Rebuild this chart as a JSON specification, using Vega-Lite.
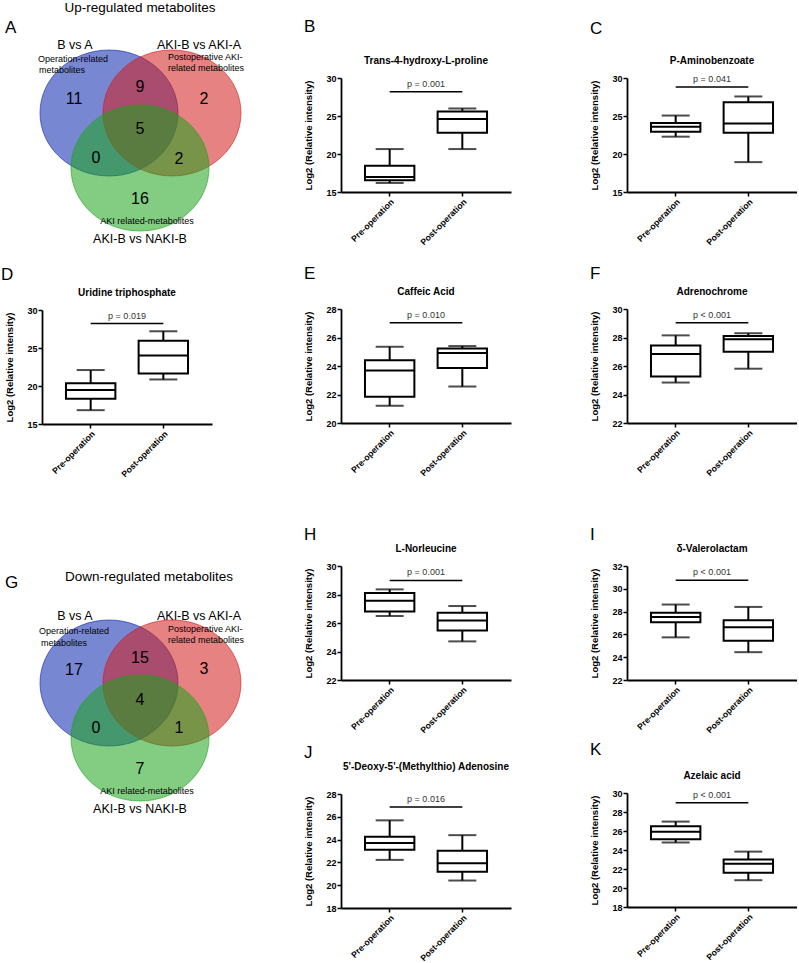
{
"$schema": "https://vega.github.io/schema/vega-lite/v6.json",
"padding": 0,
"background": "white",
"config": {
  "view": {"stroke": null},
  "font": "Liberation Sans",
  "title": {"font": "Liberation Sans", "color": "black"},
  "text": {"font": "Liberation Sans", "color": "black"},
  "axis": {"domainColor": "black", "domainWidth": 1.8, "tickColor": "black", "tickWidth": 1.5, "tickSize": 4, "labelColor": "black", "labelFont": "Liberation Sans", "labelFontWeight": "bold", "labelFontSize": 9, "labelPadding": 1, "labelOverlap": false, "titleFont": "Liberation Sans", "titleFontWeight": "bold", "titleFontSize": 9.5, "titleColor": "black", "grid": false},
  "axisX": {"labelFontSize": 8.7},
  "axisY": {"titlePadding": 12, "labelOverlap": false}
},
"datasets": {
  "box": [
    {"panel": "B", "group": "Pre-operation", "lo": 16.19, "q1": 16.55, "med": 16.99, "q3": 18.44, "hi": 20.65},
    {"panel": "B", "group": "Post-operation", "lo": 20.65, "q1": 22.81, "med": 24.62, "q3": 25.59, "hi": 25.99},
    {"panel": "C", "group": "Pre-operation", "lo": 22.28, "q1": 22.94, "med": 23.6, "q3": 24.09, "hi": 25.06},
    {"panel": "C", "group": "Post-operation", "lo": 18.93, "q1": 22.81, "med": 24.0, "q3": 26.82, "hi": 27.57},
    {"panel": "D", "group": "Pre-operation", "lo": 16.82, "q1": 18.33, "med": 19.48, "q3": 20.37, "hi": 22.1},
    {"panel": "D", "group": "Post-operation", "lo": 20.86, "q1": 21.66, "med": 24.01, "q3": 25.96, "hi": 27.2},
    {"panel": "E", "group": "Pre-operation", "lo": 21.21, "q1": 21.85, "med": 23.69, "q3": 24.4, "hi": 25.35},
    {"panel": "E", "group": "Post-operation", "lo": 22.56, "q1": 23.86, "med": 24.92, "q3": 25.23, "hi": 25.4},
    {"panel": "F", "group": "Pre-operation", "lo": 24.84, "q1": 25.27, "med": 26.85, "q3": 27.44, "hi": 28.15},
    {"panel": "F", "group": "Post-operation", "lo": 25.81, "q1": 27.0, "med": 27.87, "q3": 28.11, "hi": 28.3},
    {"panel": "H", "group": "Pre-operation", "lo": 26.49, "q1": 26.81, "med": 27.56, "q3": 28.1, "hi": 28.36},
    {"panel": "H", "group": "Post-operation", "lo": 24.71, "q1": 25.48, "med": 26.18, "q3": 26.72, "hi": 27.19},
    {"panel": "I", "group": "Pre-operation", "lo": 25.74, "q1": 27.06, "med": 27.53, "q3": 27.91, "hi": 28.62},
    {"panel": "I", "group": "Post-operation", "lo": 24.44, "q1": 25.44, "med": 26.62, "q3": 27.24, "hi": 28.41},
    {"panel": "J", "group": "Pre-operation", "lo": 22.22, "q1": 23.11, "med": 23.7, "q3": 24.24, "hi": 25.69},
    {"panel": "J", "group": "Post-operation", "lo": 20.41, "q1": 21.19, "med": 21.93, "q3": 23.02, "hi": 24.39},
    {"panel": "K", "group": "Pre-operation", "lo": 24.79, "q1": 25.14, "med": 25.92, "q3": 26.49, "hi": 26.99},
    {"panel": "K", "group": "Post-operation", "lo": 20.82, "q1": 21.6, "med": 22.55, "q3": 23.01, "hi": 23.83}
  ],
  "sig": [
    {"panel": "B", "from": "Pre-operation", "to": "Post-operation", "y": 28.19, "label": "p = 0.001"},
    {"panel": "C", "from": "Pre-operation", "to": "Post-operation", "y": 28.81, "label": "p = 0.041"},
    {"panel": "D", "from": "Pre-operation", "to": "Post-operation", "y": 28.22, "label": "p = 0.019"},
    {"panel": "E", "from": "Pre-operation", "to": "Post-operation", "y": 27.03, "label": "p = 0.010"},
    {"panel": "F", "from": "Pre-operation", "to": "Post-operation", "y": 29.03, "label": "p < 0.001"},
    {"panel": "H", "from": "Pre-operation", "to": "Post-operation", "y": 28.99, "label": "p = 0.001"},
    {"panel": "I", "from": "Pre-operation", "to": "Post-operation", "y": 30.76, "label": "p < 0.001"},
    {"panel": "J", "from": "Pre-operation", "to": "Post-operation", "y": 26.87, "label": "p = 0.016"},
    {"panel": "K", "from": "Pre-operation", "to": "Post-operation", "y": 28.97, "label": "p < 0.001"}
  ],
  "venn": [
    {"venn": "A", "set": "B vs A", "cx": 10.7, "cy": 11.3},
    {"venn": "A", "set": "AKI-B vs AKI-A", "cx": 17.0, "cy": 11.3},
    {"venn": "A", "set": "AKI-B vs NAKI-B", "cx": 13.8, "cy": 16.8},
    {"venn": "G", "set": "B vs A", "cx": 10.7, "cy": 11.3},
    {"venn": "G", "set": "AKI-B vs AKI-A", "cx": 17.0, "cy": 11.3},
    {"venn": "G", "set": "AKI-B vs NAKI-B", "cx": 13.8, "cy": 16.8}
  ],
  "vennText": [
    {"venn": "A", "text": "Up-regulated metabolites", "x": 13.8, "y": 0.75, "kind": "title"},
    {"venn": "A", "text": "A", "x": 0.3, "y": 2.8, "kind": "letter"},
    {"venn": "A", "text": "B vs A", "x": 7.3, "y": 4.5, "kind": "set"},
    {"venn": "A", "text": "AKI-B vs AKI-A", "x": 19.7, "y": 4.5, "kind": "set"},
    {"venn": "A", "text": "AKI-B vs NAKI-B", "x": 13.8, "y": 23.9, "kind": "set"},
    {"venn": "A", "text": "Operation-related", "x": 3.6, "y": 5.9, "kind": "desc"},
    {"venn": "A", "text": "metabolites", "x": 3.7, "y": 7.0, "kind": "desc"},
    {"venn": "A", "text": "Postoperative AKI-", "x": 16.6, "y": 5.7, "kind": "desc"},
    {"venn": "A", "text": "related metabolites", "x": 16.6, "y": 6.8, "kind": "desc"},
    {"venn": "A", "text": "AKI related-metabolites", "x": 14.5, "y": 22.1, "kind": "descc"},
    {"venn": "A", "text": "11", "x": 7.2, "y": 9.9, "kind": "num"},
    {"venn": "A", "text": "9", "x": 13.8, "y": 8.7, "kind": "num"},
    {"venn": "A", "text": "2", "x": 20.2, "y": 9.9, "kind": "num"},
    {"venn": "A", "text": "5", "x": 13.8, "y": 12.9, "kind": "num"},
    {"venn": "A", "text": "0", "x": 9.4, "y": 15.8, "kind": "num"},
    {"venn": "A", "text": "2", "x": 17.7, "y": 15.9, "kind": "num"},
    {"venn": "A", "text": "16", "x": 13.8, "y": 19.9, "kind": "num"},
    {"venn": "G", "text": "Down-regulated metabolites", "x": 14.7, "y": 0.7, "kind": "title"},
    {"venn": "G", "text": "G", "x": 0.3, "y": 1.3, "kind": "letter"},
    {"venn": "G", "text": "B vs A", "x": 7.3, "y": 4.6, "kind": "set"},
    {"venn": "G", "text": "AKI-B vs AKI-A", "x": 19.7, "y": 4.6, "kind": "set"},
    {"venn": "G", "text": "AKI-B vs NAKI-B", "x": 13.8, "y": 23.9, "kind": "set"},
    {"venn": "G", "text": "Operation-related", "x": 3.7, "y": 6.1, "kind": "desc"},
    {"venn": "G", "text": "metabolites", "x": 3.9, "y": 7.3, "kind": "desc"},
    {"venn": "G", "text": "Postoperative AKI-", "x": 16.6, "y": 5.9, "kind": "desc"},
    {"venn": "G", "text": "related metabolites", "x": 16.6, "y": 7.0, "kind": "desc"},
    {"venn": "G", "text": "AKI related-metabolites", "x": 14.5, "y": 22.1, "kind": "descc"},
    {"venn": "G", "text": "17", "x": 7.2, "y": 10.0, "kind": "num"},
    {"venn": "G", "text": "15", "x": 13.8, "y": 8.8, "kind": "num"},
    {"venn": "G", "text": "3", "x": 20.2, "y": 9.9, "kind": "num"},
    {"venn": "G", "text": "4", "x": 13.8, "y": 13.0, "kind": "num"},
    {"venn": "G", "text": "0", "x": 9.4, "y": 15.8, "kind": "num"},
    {"venn": "G", "text": "1", "x": 17.7, "y": 15.8, "kind": "num"},
    {"venn": "G", "text": "7", "x": 13.8, "y": 19.9, "kind": "num"}
  ]
},
"spacing": 78,
"hconcat": [
 {"spacing": 58, "hconcat": [
  {"spacing": 90, "vconcat": [
   {"spacing": 20, "vconcat": [
    {"width": 200, "height": 160,
     "encoding": {
        "x": {"field": "x", "type": "quantitative", "scale": {"domain": [4.0, 24.0], "nice": false, "zero": false}, "axis": null},
        "y": {"field": "y", "type": "quantitative", "scale": {"domain": [7.8, 23.8], "nice": false, "zero": false, "reverse": true}, "axis": null},
        "text": {"field": "text"}
     },
     "layer": [
      {"data": {"name": "venn"}, "transform": [{"filter": "datum.venn === 'A'"}],
       "mark": {"type": "point", "shape": "M-1,0A1,0.913,0,1,1,1,0A1,0.913,0,1,1,-1,0Z", "filled": true, "fillOpacity": 0.55, "strokeOpacity": 0.6, "strokeWidth": 1},
       "encoding": {
        "x": {"field": "cx", "type": "quantitative", "scale": {"domain": [4.0, 24.0], "nice": false, "zero": false}, "axis": null},
        "y": {"field": "cy", "type": "quantitative", "scale": {"domain": [7.8, 23.8], "nice": false, "zero": false, "reverse": true}, "axis": null},
        "text": null,
        "size": {"value": 19044},
        "color": {"field": "set", "type": "nominal", "scale": {"domain": ["B vs A", "AKI-B vs AKI-A", "AKI-B vs NAKI-B"], "range": ["#0a25ad", "#d11b1b", "#1ba41b"]}, "legend": null},
        "stroke": {"field": "set", "type": "nominal", "scale": {"domain": ["B vs A", "AKI-B vs AKI-A", "AKI-B vs NAKI-B"], "range": ["#0a25ad", "#d11b1b", "#1ba41b"]}, "legend": null}
       }},
      {"data": {"name": "vennText"}, "transform": [{"filter": "datum.venn === 'A' && datum.kind === 'title'"}], "mark": {"type": "text", "align": "center", "baseline": "middle", "fontSize": 13.5}},
      {"data": {"name": "vennText"}, "transform": [{"filter": "datum.venn === 'A' && datum.kind === 'letter'"}], "mark": {"type": "text", "align": "left", "baseline": "middle", "fontSize": 17}},
      {"data": {"name": "vennText"}, "transform": [{"filter": "datum.venn === 'A' && datum.kind === 'set'"}], "mark": {"type": "text", "align": "center", "baseline": "middle", "fontSize": 12.5}},
      {"data": {"name": "vennText"}, "transform": [{"filter": "datum.venn === 'A' && datum.kind === 'desc'"}], "mark": {"type": "text", "align": "left", "baseline": "middle", "fontSize": 9}},
      {"data": {"name": "vennText"}, "transform": [{"filter": "datum.venn === 'A' && datum.kind === 'descc'"}], "mark": {"type": "text", "align": "center", "baseline": "middle", "fontSize": 9}},
      {"data": {"name": "vennText"}, "transform": [{"filter": "datum.venn === 'A' && datum.kind === 'num'"}], "mark": {"type": "text", "align": "center", "baseline": "middle", "fontSize": 16}}
     ]},
    {"title": {"text": "D", "anchor": "start", "frame": "bounds", "fontSize": 17, "fontWeight": "normal", "offset": 4, "dx": -4},
     "vconcat": [{
      "width": 170, "height": 114,
      "title": {"text": "Uridine triphosphate", "fontSize": 10, "fontWeight": "bold", "anchor": "middle", "frame": "group", "offset": 8},
      "layer": [
       {"data": {"name": "box"}, "transform": [{"filter": "datum.panel === 'D'"}], "mark": {"type": "rule", "color": "black", "strokeWidth": 2},
        "encoding": {"x": {"field": "group", "type": "nominal", "scale": {"type": "band", "domain": ["Pre-operation", "Post-operation"], "paddingInner": 0.32, "paddingOuter": 0.33}, "axis": {"title": null, "labelAngle": -45}},
         "y": {"field": "lo", "type": "quantitative", "scale": {"domain": [15, 30], "nice": false, "zero": false}, "axis": {"title": "Log2 (Relative intensity)", "tickCount": 3, "labelOverlap": false}}, "y2": {"field": "hi"}}},
       {"data": {"name": "box"}, "transform": [{"filter": "datum.panel === 'D'"}], "mark": {"type": "bar", "fill": "white", "stroke": "black", "strokeWidth": 2},
        "encoding": {"x": {"field": "group", "type": "nominal", "scale": {"type": "band", "domain": ["Pre-operation", "Post-operation"]}}, "y": {"field": "q1", "type": "quantitative"}, "y2": {"field": "q3"}}},
       {"data": {"name": "box"}, "transform": [{"filter": "datum.panel === 'D'"}], "mark": {"type": "bar", "fill": "white", "stroke": "black", "strokeWidth": 2},
        "encoding": {"x": {"field": "group", "type": "nominal", "scale": {"type": "band", "domain": ["Pre-operation", "Post-operation"]}}, "y": {"field": "med", "type": "quantitative"}, "y2": {"field": "med"}}},
       {"data": {"name": "box"}, "transform": [{"filter": "datum.panel === 'D'"}], "mark": {"type": "tick", "color": "black", "thickness": 2, "size": 28},
        "encoding": {"x": {"field": "group", "type": "nominal", "scale": {"type": "band", "domain": ["Pre-operation", "Post-operation"]}}, "y": {"field": "lo", "type": "quantitative"}}},
       {"data": {"name": "box"}, "transform": [{"filter": "datum.panel === 'D'"}], "mark": {"type": "tick", "color": "black", "thickness": 2, "size": 28},
        "encoding": {"x": {"field": "group", "type": "nominal", "scale": {"type": "band", "domain": ["Pre-operation", "Post-operation"]}}, "y": {"field": "hi", "type": "quantitative"}}},
       {"data": {"name": "sig"}, "transform": [{"filter": "datum.panel === 'D'"}], "mark": {"type": "rule", "color": "black", "strokeWidth": 1.5},
        "encoding": {"x": {"field": "from", "type": "nominal", "scale": {"type": "band", "domain": ["Pre-operation", "Post-operation"]}}, "x2": {"field": "to"}, "y": {"field": "y", "type": "quantitative"}}},
       {"data": {"name": "sig"}, "transform": [{"filter": "datum.panel === 'D'"}], "mark": {"type": "text", "baseline": "bottom", "dy": -3, "fontSize": 9, "color": "#333"},
        "encoding": {"y": {"field": "y", "type": "quantitative"}, "text": {"field": "label"}}}
      ]}]}
   ]},
   {"width": 200, "height": 246,
     "encoding": {
        "x": {"field": "x", "type": "quantitative", "scale": {"domain": [4.0, 24.0], "nice": false, "zero": false}, "axis": null},
        "y": {"field": "y", "type": "quantitative", "scale": {"domain": [0, 24.6], "nice": false, "zero": false, "reverse": true}, "axis": null},
        "text": {"field": "text"}
     },
     "layer": [
      {"data": {"name": "venn"}, "transform": [{"filter": "datum.venn === 'G'"}],
       "mark": {"type": "point", "shape": "M-1,0A1,0.913,0,1,1,1,0A1,0.913,0,1,1,-1,0Z", "filled": true, "fillOpacity": 0.55, "strokeOpacity": 0.6, "strokeWidth": 1},
       "encoding": {
        "x": {"field": "cx", "type": "quantitative", "scale": {"domain": [4.0, 24.0], "nice": false, "zero": false}, "axis": null},
        "y": {"field": "cy", "type": "quantitative", "scale": {"domain": [0, 24.6], "nice": false, "zero": false, "reverse": true}, "axis": null},
        "text": null,
        "size": {"value": 19044},
        "color": {"field": "set", "type": "nominal", "scale": {"domain": ["B vs A", "AKI-B vs AKI-A", "AKI-B vs NAKI-B"], "range": ["#0a25ad", "#d11b1b", "#1ba41b"]}, "legend": null},
        "stroke": {"field": "set", "type": "nominal", "scale": {"domain": ["B vs A", "AKI-B vs AKI-A", "AKI-B vs NAKI-B"], "range": ["#0a25ad", "#d11b1b", "#1ba41b"]}, "legend": null}
       }},
      {"data": {"name": "vennText"}, "transform": [{"filter": "datum.venn === 'G' && datum.kind === 'title'"}], "mark": {"type": "text", "align": "center", "baseline": "middle", "fontSize": 13.5}},
      {"data": {"name": "vennText"}, "transform": [{"filter": "datum.venn === 'G' && datum.kind === 'letter'"}], "mark": {"type": "text", "align": "left", "baseline": "middle", "fontSize": 17}},
      {"data": {"name": "vennText"}, "transform": [{"filter": "datum.venn === 'G' && datum.kind === 'set'"}], "mark": {"type": "text", "align": "center", "baseline": "middle", "fontSize": 12.5}},
      {"data": {"name": "vennText"}, "transform": [{"filter": "datum.venn === 'G' && datum.kind === 'desc'"}], "mark": {"type": "text", "align": "left", "baseline": "middle", "fontSize": 9}},
      {"data": {"name": "vennText"}, "transform": [{"filter": "datum.venn === 'G' && datum.kind === 'descc'"}], "mark": {"type": "text", "align": "center", "baseline": "middle", "fontSize": 9}},
      {"data": {"name": "vennText"}, "transform": [{"filter": "datum.venn === 'G' && datum.kind === 'num'"}], "mark": {"type": "text", "align": "center", "baseline": "middle", "fontSize": 16}}
     ]}
  ]},
  {"spacing": 48, "vconcat": [
   {"spacing": 18, "vconcat": [
    {"title": {"text": ["", "B"], "lineHeight": 18, "anchor": "start", "frame": "bounds", "fontSize": 17, "fontWeight": "normal", "offset": 20},
     "vconcat": [{
      "width": 170, "height": 114,
      "title": {"text": "Trans-4-hydroxy-L-proline", "fontSize": 10, "fontWeight": "bold", "anchor": "middle", "frame": "group", "offset": 8},
      "layer": [
       {"data": {"name": "box"}, "transform": [{"filter": "datum.panel === 'B'"}], "mark": {"type": "rule", "color": "black", "strokeWidth": 2},
        "encoding": {"x": {"field": "group", "type": "nominal", "scale": {"type": "band", "domain": ["Pre-operation", "Post-operation"], "paddingInner": 0.32, "paddingOuter": 0.33}, "axis": {"title": null, "labelAngle": -45}},
         "y": {"field": "lo", "type": "quantitative", "scale": {"domain": [15, 30], "nice": false, "zero": false}, "axis": {"title": "Log2 (Relative intensity)", "tickCount": 3, "labelOverlap": false}}, "y2": {"field": "hi"}}},
       {"data": {"name": "box"}, "transform": [{"filter": "datum.panel === 'B'"}], "mark": {"type": "bar", "fill": "white", "stroke": "black", "strokeWidth": 2},
        "encoding": {"x": {"field": "group", "type": "nominal", "scale": {"type": "band", "domain": ["Pre-operation", "Post-operation"]}}, "y": {"field": "q1", "type": "quantitative"}, "y2": {"field": "q3"}}},
       {"data": {"name": "box"}, "transform": [{"filter": "datum.panel === 'B'"}], "mark": {"type": "bar", "fill": "white", "stroke": "black", "strokeWidth": 2},
        "encoding": {"x": {"field": "group", "type": "nominal", "scale": {"type": "band", "domain": ["Pre-operation", "Post-operation"]}}, "y": {"field": "med", "type": "quantitative"}, "y2": {"field": "med"}}},
       {"data": {"name": "box"}, "transform": [{"filter": "datum.panel === 'B'"}], "mark": {"type": "tick", "color": "black", "thickness": 2, "size": 28},
        "encoding": {"x": {"field": "group", "type": "nominal", "scale": {"type": "band", "domain": ["Pre-operation", "Post-operation"]}}, "y": {"field": "lo", "type": "quantitative"}}},
       {"data": {"name": "box"}, "transform": [{"filter": "datum.panel === 'B'"}], "mark": {"type": "tick", "color": "black", "thickness": 2, "size": 28},
        "encoding": {"x": {"field": "group", "type": "nominal", "scale": {"type": "band", "domain": ["Pre-operation", "Post-operation"]}}, "y": {"field": "hi", "type": "quantitative"}}},
       {"data": {"name": "sig"}, "transform": [{"filter": "datum.panel === 'B'"}], "mark": {"type": "rule", "color": "black", "strokeWidth": 1.5},
        "encoding": {"x": {"field": "from", "type": "nominal", "scale": {"type": "band", "domain": ["Pre-operation", "Post-operation"]}}, "x2": {"field": "to"}, "y": {"field": "y", "type": "quantitative"}}},
       {"data": {"name": "sig"}, "transform": [{"filter": "datum.panel === 'B'"}], "mark": {"type": "text", "baseline": "bottom", "dy": -3, "fontSize": 9, "color": "#333"},
        "encoding": {"y": {"field": "y", "type": "quantitative"}, "text": {"field": "label"}}}
      ]}]},
    {"title": {"text": "E", "anchor": "start", "frame": "bounds", "fontSize": 17, "fontWeight": "normal", "offset": 4},
     "vconcat": [{
      "width": 170, "height": 114,
      "title": {"text": "Caffeic Acid", "fontSize": 10, "fontWeight": "bold", "anchor": "middle", "frame": "group", "offset": 8},
      "layer": [
       {"data": {"name": "box"}, "transform": [{"filter": "datum.panel === 'E'"}], "mark": {"type": "rule", "color": "black", "strokeWidth": 2},
        "encoding": {"x": {"field": "group", "type": "nominal", "scale": {"type": "band", "domain": ["Pre-operation", "Post-operation"], "paddingInner": 0.32, "paddingOuter": 0.33}, "axis": {"title": null, "labelAngle": -45}},
         "y": {"field": "lo", "type": "quantitative", "scale": {"domain": [20, 28], "nice": false, "zero": false}, "axis": {"title": "Log2 (Relative intensity)", "tickCount": 4, "labelOverlap": false}}, "y2": {"field": "hi"}}},
       {"data": {"name": "box"}, "transform": [{"filter": "datum.panel === 'E'"}], "mark": {"type": "bar", "fill": "white", "stroke": "black", "strokeWidth": 2},
        "encoding": {"x": {"field": "group", "type": "nominal", "scale": {"type": "band", "domain": ["Pre-operation", "Post-operation"]}}, "y": {"field": "q1", "type": "quantitative"}, "y2": {"field": "q3"}}},
       {"data": {"name": "box"}, "transform": [{"filter": "datum.panel === 'E'"}], "mark": {"type": "bar", "fill": "white", "stroke": "black", "strokeWidth": 2},
        "encoding": {"x": {"field": "group", "type": "nominal", "scale": {"type": "band", "domain": ["Pre-operation", "Post-operation"]}}, "y": {"field": "med", "type": "quantitative"}, "y2": {"field": "med"}}},
       {"data": {"name": "box"}, "transform": [{"filter": "datum.panel === 'E'"}], "mark": {"type": "tick", "color": "black", "thickness": 2, "size": 28},
        "encoding": {"x": {"field": "group", "type": "nominal", "scale": {"type": "band", "domain": ["Pre-operation", "Post-operation"]}}, "y": {"field": "lo", "type": "quantitative"}}},
       {"data": {"name": "box"}, "transform": [{"filter": "datum.panel === 'E'"}], "mark": {"type": "tick", "color": "black", "thickness": 2, "size": 28},
        "encoding": {"x": {"field": "group", "type": "nominal", "scale": {"type": "band", "domain": ["Pre-operation", "Post-operation"]}}, "y": {"field": "hi", "type": "quantitative"}}},
       {"data": {"name": "sig"}, "transform": [{"filter": "datum.panel === 'E'"}], "mark": {"type": "rule", "color": "black", "strokeWidth": 1.5},
        "encoding": {"x": {"field": "from", "type": "nominal", "scale": {"type": "band", "domain": ["Pre-operation", "Post-operation"]}}, "x2": {"field": "to"}, "y": {"field": "y", "type": "quantitative"}}},
       {"data": {"name": "sig"}, "transform": [{"filter": "datum.panel === 'E'"}], "mark": {"type": "text", "baseline": "bottom", "dy": -3, "fontSize": 9, "color": "#333"},
        "encoding": {"y": {"field": "y", "type": "quantitative"}, "text": {"field": "label"}}}
      ]}]}
   ]},
   {"spacing": 9, "vconcat": [
    {"title": {"text": "H", "anchor": "start", "frame": "bounds", "fontSize": 17, "fontWeight": "normal", "offset": 0},
     "vconcat": [{
      "width": 170, "height": 114,
      "title": {"text": "L-Norleucine", "fontSize": 10, "fontWeight": "bold", "anchor": "middle", "frame": "group", "offset": 8},
      "layer": [
       {"data": {"name": "box"}, "transform": [{"filter": "datum.panel === 'H'"}], "mark": {"type": "rule", "color": "black", "strokeWidth": 2},
        "encoding": {"x": {"field": "group", "type": "nominal", "scale": {"type": "band", "domain": ["Pre-operation", "Post-operation"], "paddingInner": 0.32, "paddingOuter": 0.33}, "axis": {"title": null, "labelAngle": -45}},
         "y": {"field": "lo", "type": "quantitative", "scale": {"domain": [22, 30], "nice": false, "zero": false}, "axis": {"title": "Log2 (Relative intensity)", "tickCount": 4, "labelOverlap": false}}, "y2": {"field": "hi"}}},
       {"data": {"name": "box"}, "transform": [{"filter": "datum.panel === 'H'"}], "mark": {"type": "bar", "fill": "white", "stroke": "black", "strokeWidth": 2},
        "encoding": {"x": {"field": "group", "type": "nominal", "scale": {"type": "band", "domain": ["Pre-operation", "Post-operation"]}}, "y": {"field": "q1", "type": "quantitative"}, "y2": {"field": "q3"}}},
       {"data": {"name": "box"}, "transform": [{"filter": "datum.panel === 'H'"}], "mark": {"type": "bar", "fill": "white", "stroke": "black", "strokeWidth": 2},
        "encoding": {"x": {"field": "group", "type": "nominal", "scale": {"type": "band", "domain": ["Pre-operation", "Post-operation"]}}, "y": {"field": "med", "type": "quantitative"}, "y2": {"field": "med"}}},
       {"data": {"name": "box"}, "transform": [{"filter": "datum.panel === 'H'"}], "mark": {"type": "tick", "color": "black", "thickness": 2, "size": 28},
        "encoding": {"x": {"field": "group", "type": "nominal", "scale": {"type": "band", "domain": ["Pre-operation", "Post-operation"]}}, "y": {"field": "lo", "type": "quantitative"}}},
       {"data": {"name": "box"}, "transform": [{"filter": "datum.panel === 'H'"}], "mark": {"type": "tick", "color": "black", "thickness": 2, "size": 28},
        "encoding": {"x": {"field": "group", "type": "nominal", "scale": {"type": "band", "domain": ["Pre-operation", "Post-operation"]}}, "y": {"field": "hi", "type": "quantitative"}}},
       {"data": {"name": "sig"}, "transform": [{"filter": "datum.panel === 'H'"}], "mark": {"type": "rule", "color": "black", "strokeWidth": 1.5},
        "encoding": {"x": {"field": "from", "type": "nominal", "scale": {"type": "band", "domain": ["Pre-operation", "Post-operation"]}}, "x2": {"field": "to"}, "y": {"field": "y", "type": "quantitative"}}},
       {"data": {"name": "sig"}, "transform": [{"filter": "datum.panel === 'H'"}], "mark": {"type": "text", "baseline": "bottom", "dy": -3, "fontSize": 9, "color": "#333"},
        "encoding": {"y": {"field": "y", "type": "quantitative"}, "text": {"field": "label"}}}
      ]}]},
    {"title": {"text": "J", "anchor": "start", "frame": "bounds", "fontSize": 17, "fontWeight": "normal", "offset": 0},
     "vconcat": [{
      "width": 170, "height": 114,
      "title": {"text": "5'-Deoxy-5'-(Methylthio) Adenosine", "fontSize": 10, "fontWeight": "bold", "anchor": "middle", "frame": "group", "offset": 18},
      "layer": [
       {"data": {"name": "box"}, "transform": [{"filter": "datum.panel === 'J'"}], "mark": {"type": "rule", "color": "black", "strokeWidth": 2},
        "encoding": {"x": {"field": "group", "type": "nominal", "scale": {"type": "band", "domain": ["Pre-operation", "Post-operation"], "paddingInner": 0.32, "paddingOuter": 0.33}, "axis": {"title": null, "labelAngle": -45}},
         "y": {"field": "lo", "type": "quantitative", "scale": {"domain": [18, 28], "nice": false, "zero": false}, "axis": {"title": "Log2 (Relative intensity)", "tickCount": 5, "labelOverlap": false}}, "y2": {"field": "hi"}}},
       {"data": {"name": "box"}, "transform": [{"filter": "datum.panel === 'J'"}], "mark": {"type": "bar", "fill": "white", "stroke": "black", "strokeWidth": 2},
        "encoding": {"x": {"field": "group", "type": "nominal", "scale": {"type": "band", "domain": ["Pre-operation", "Post-operation"]}}, "y": {"field": "q1", "type": "quantitative"}, "y2": {"field": "q3"}}},
       {"data": {"name": "box"}, "transform": [{"filter": "datum.panel === 'J'"}], "mark": {"type": "bar", "fill": "white", "stroke": "black", "strokeWidth": 2},
        "encoding": {"x": {"field": "group", "type": "nominal", "scale": {"type": "band", "domain": ["Pre-operation", "Post-operation"]}}, "y": {"field": "med", "type": "quantitative"}, "y2": {"field": "med"}}},
       {"data": {"name": "box"}, "transform": [{"filter": "datum.panel === 'J'"}], "mark": {"type": "tick", "color": "black", "thickness": 2, "size": 28},
        "encoding": {"x": {"field": "group", "type": "nominal", "scale": {"type": "band", "domain": ["Pre-operation", "Post-operation"]}}, "y": {"field": "lo", "type": "quantitative"}}},
       {"data": {"name": "box"}, "transform": [{"filter": "datum.panel === 'J'"}], "mark": {"type": "tick", "color": "black", "thickness": 2, "size": 28},
        "encoding": {"x": {"field": "group", "type": "nominal", "scale": {"type": "band", "domain": ["Pre-operation", "Post-operation"]}}, "y": {"field": "hi", "type": "quantitative"}}},
       {"data": {"name": "sig"}, "transform": [{"filter": "datum.panel === 'J'"}], "mark": {"type": "rule", "color": "black", "strokeWidth": 1.5},
        "encoding": {"x": {"field": "from", "type": "nominal", "scale": {"type": "band", "domain": ["Pre-operation", "Post-operation"]}}, "x2": {"field": "to"}, "y": {"field": "y", "type": "quantitative"}}},
       {"data": {"name": "sig"}, "transform": [{"filter": "datum.panel === 'J'"}], "mark": {"type": "text", "baseline": "bottom", "dy": -3, "fontSize": 9, "color": "#333"},
        "encoding": {"y": {"field": "y", "type": "quantitative"}, "text": {"field": "label"}}}
      ]}]}
   ]}
  ]}
 ]},
 {"spacing": 48, "vconcat": [
   {"spacing": 18, "vconcat": [
    {"title": {"text": ["", "C"], "lineHeight": 18, "anchor": "start", "frame": "bounds", "fontSize": 17, "fontWeight": "normal", "offset": 18},
     "vconcat": [{
      "width": 170, "height": 114,
      "title": {"text": "P-Aminobenzoate", "fontSize": 10, "fontWeight": "bold", "anchor": "middle", "frame": "group", "offset": 8},
      "layer": [
       {"data": {"name": "box"}, "transform": [{"filter": "datum.panel === 'C'"}], "mark": {"type": "rule", "color": "black", "strokeWidth": 2},
        "encoding": {"x": {"field": "group", "type": "nominal", "scale": {"type": "band", "domain": ["Pre-operation", "Post-operation"], "paddingInner": 0.32, "paddingOuter": 0.33}, "axis": {"title": null, "labelAngle": -45}},
         "y": {"field": "lo", "type": "quantitative", "scale": {"domain": [15, 30], "nice": false, "zero": false}, "axis": {"title": "Log2 (Relative intensity)", "tickCount": 3, "labelOverlap": false}}, "y2": {"field": "hi"}}},
       {"data": {"name": "box"}, "transform": [{"filter": "datum.panel === 'C'"}], "mark": {"type": "bar", "fill": "white", "stroke": "black", "strokeWidth": 2},
        "encoding": {"x": {"field": "group", "type": "nominal", "scale": {"type": "band", "domain": ["Pre-operation", "Post-operation"]}}, "y": {"field": "q1", "type": "quantitative"}, "y2": {"field": "q3"}}},
       {"data": {"name": "box"}, "transform": [{"filter": "datum.panel === 'C'"}], "mark": {"type": "bar", "fill": "white", "stroke": "black", "strokeWidth": 2},
        "encoding": {"x": {"field": "group", "type": "nominal", "scale": {"type": "band", "domain": ["Pre-operation", "Post-operation"]}}, "y": {"field": "med", "type": "quantitative"}, "y2": {"field": "med"}}},
       {"data": {"name": "box"}, "transform": [{"filter": "datum.panel === 'C'"}], "mark": {"type": "tick", "color": "black", "thickness": 2, "size": 28},
        "encoding": {"x": {"field": "group", "type": "nominal", "scale": {"type": "band", "domain": ["Pre-operation", "Post-operation"]}}, "y": {"field": "lo", "type": "quantitative"}}},
       {"data": {"name": "box"}, "transform": [{"filter": "datum.panel === 'C'"}], "mark": {"type": "tick", "color": "black", "thickness": 2, "size": 28},
        "encoding": {"x": {"field": "group", "type": "nominal", "scale": {"type": "band", "domain": ["Pre-operation", "Post-operation"]}}, "y": {"field": "hi", "type": "quantitative"}}},
       {"data": {"name": "sig"}, "transform": [{"filter": "datum.panel === 'C'"}], "mark": {"type": "rule", "color": "black", "strokeWidth": 1.5},
        "encoding": {"x": {"field": "from", "type": "nominal", "scale": {"type": "band", "domain": ["Pre-operation", "Post-operation"]}}, "x2": {"field": "to"}, "y": {"field": "y", "type": "quantitative"}}},
       {"data": {"name": "sig"}, "transform": [{"filter": "datum.panel === 'C'"}], "mark": {"type": "text", "baseline": "bottom", "dy": -3, "fontSize": 9, "color": "#333"},
        "encoding": {"y": {"field": "y", "type": "quantitative"}, "text": {"field": "label"}}}
      ]}]},
    {"title": {"text": "F", "anchor": "start", "frame": "bounds", "fontSize": 17, "fontWeight": "normal", "offset": 4},
     "vconcat": [{
      "width": 170, "height": 114,
      "title": {"text": "Adrenochrome", "fontSize": 10, "fontWeight": "bold", "anchor": "middle", "frame": "group", "offset": 8},
      "layer": [
       {"data": {"name": "box"}, "transform": [{"filter": "datum.panel === 'F'"}], "mark": {"type": "rule", "color": "black", "strokeWidth": 2},
        "encoding": {"x": {"field": "group", "type": "nominal", "scale": {"type": "band", "domain": ["Pre-operation", "Post-operation"], "paddingInner": 0.32, "paddingOuter": 0.33}, "axis": {"title": null, "labelAngle": -45}},
         "y": {"field": "lo", "type": "quantitative", "scale": {"domain": [22, 30], "nice": false, "zero": false}, "axis": {"title": "Log2 (Relative intensity)", "tickCount": 4, "labelOverlap": false}}, "y2": {"field": "hi"}}},
       {"data": {"name": "box"}, "transform": [{"filter": "datum.panel === 'F'"}], "mark": {"type": "bar", "fill": "white", "stroke": "black", "strokeWidth": 2},
        "encoding": {"x": {"field": "group", "type": "nominal", "scale": {"type": "band", "domain": ["Pre-operation", "Post-operation"]}}, "y": {"field": "q1", "type": "quantitative"}, "y2": {"field": "q3"}}},
       {"data": {"name": "box"}, "transform": [{"filter": "datum.panel === 'F'"}], "mark": {"type": "bar", "fill": "white", "stroke": "black", "strokeWidth": 2},
        "encoding": {"x": {"field": "group", "type": "nominal", "scale": {"type": "band", "domain": ["Pre-operation", "Post-operation"]}}, "y": {"field": "med", "type": "quantitative"}, "y2": {"field": "med"}}},
       {"data": {"name": "box"}, "transform": [{"filter": "datum.panel === 'F'"}], "mark": {"type": "tick", "color": "black", "thickness": 2, "size": 28},
        "encoding": {"x": {"field": "group", "type": "nominal", "scale": {"type": "band", "domain": ["Pre-operation", "Post-operation"]}}, "y": {"field": "lo", "type": "quantitative"}}},
       {"data": {"name": "box"}, "transform": [{"filter": "datum.panel === 'F'"}], "mark": {"type": "tick", "color": "black", "thickness": 2, "size": 28},
        "encoding": {"x": {"field": "group", "type": "nominal", "scale": {"type": "band", "domain": ["Pre-operation", "Post-operation"]}}, "y": {"field": "hi", "type": "quantitative"}}},
       {"data": {"name": "sig"}, "transform": [{"filter": "datum.panel === 'F'"}], "mark": {"type": "rule", "color": "black", "strokeWidth": 1.5},
        "encoding": {"x": {"field": "from", "type": "nominal", "scale": {"type": "band", "domain": ["Pre-operation", "Post-operation"]}}, "x2": {"field": "to"}, "y": {"field": "y", "type": "quantitative"}}},
       {"data": {"name": "sig"}, "transform": [{"filter": "datum.panel === 'F'"}], "mark": {"type": "text", "baseline": "bottom", "dy": -3, "fontSize": 9, "color": "#333"},
        "encoding": {"y": {"field": "y", "type": "quantitative"}, "text": {"field": "label"}}}
      ]}]}
   ]},
   {"spacing": 6, "vconcat": [
    {"title": {"text": "I", "anchor": "start", "frame": "bounds", "fontSize": 17, "fontWeight": "normal", "offset": 0},
     "vconcat": [{
      "width": 170, "height": 114,
      "title": {"text": "δ-Valerolactam", "fontSize": 10, "fontWeight": "bold", "anchor": "middle", "frame": "group", "offset": 8},
      "layer": [
       {"data": {"name": "box"}, "transform": [{"filter": "datum.panel === 'I'"}], "mark": {"type": "rule", "color": "black", "strokeWidth": 2},
        "encoding": {"x": {"field": "group", "type": "nominal", "scale": {"type": "band", "domain": ["Pre-operation", "Post-operation"], "paddingInner": 0.32, "paddingOuter": 0.33}, "axis": {"title": null, "labelAngle": -45}},
         "y": {"field": "lo", "type": "quantitative", "scale": {"domain": [22, 32], "nice": false, "zero": false}, "axis": {"title": "Log2 (Relative intensity)", "tickCount": 5, "labelOverlap": false}}, "y2": {"field": "hi"}}},
       {"data": {"name": "box"}, "transform": [{"filter": "datum.panel === 'I'"}], "mark": {"type": "bar", "fill": "white", "stroke": "black", "strokeWidth": 2},
        "encoding": {"x": {"field": "group", "type": "nominal", "scale": {"type": "band", "domain": ["Pre-operation", "Post-operation"]}}, "y": {"field": "q1", "type": "quantitative"}, "y2": {"field": "q3"}}},
       {"data": {"name": "box"}, "transform": [{"filter": "datum.panel === 'I'"}], "mark": {"type": "bar", "fill": "white", "stroke": "black", "strokeWidth": 2},
        "encoding": {"x": {"field": "group", "type": "nominal", "scale": {"type": "band", "domain": ["Pre-operation", "Post-operation"]}}, "y": {"field": "med", "type": "quantitative"}, "y2": {"field": "med"}}},
       {"data": {"name": "box"}, "transform": [{"filter": "datum.panel === 'I'"}], "mark": {"type": "tick", "color": "black", "thickness": 2, "size": 28},
        "encoding": {"x": {"field": "group", "type": "nominal", "scale": {"type": "band", "domain": ["Pre-operation", "Post-operation"]}}, "y": {"field": "lo", "type": "quantitative"}}},
       {"data": {"name": "box"}, "transform": [{"filter": "datum.panel === 'I'"}], "mark": {"type": "tick", "color": "black", "thickness": 2, "size": 28},
        "encoding": {"x": {"field": "group", "type": "nominal", "scale": {"type": "band", "domain": ["Pre-operation", "Post-operation"]}}, "y": {"field": "hi", "type": "quantitative"}}},
       {"data": {"name": "sig"}, "transform": [{"filter": "datum.panel === 'I'"}], "mark": {"type": "rule", "color": "black", "strokeWidth": 1.5},
        "encoding": {"x": {"field": "from", "type": "nominal", "scale": {"type": "band", "domain": ["Pre-operation", "Post-operation"]}}, "x2": {"field": "to"}, "y": {"field": "y", "type": "quantitative"}}},
       {"data": {"name": "sig"}, "transform": [{"filter": "datum.panel === 'I'"}], "mark": {"type": "text", "baseline": "bottom", "dy": -3, "fontSize": 9, "color": "#333"},
        "encoding": {"y": {"field": "y", "type": "quantitative"}, "text": {"field": "label"}}}
      ]}]},
    {"title": {"text": "K", "anchor": "start", "frame": "bounds", "fontSize": 17, "fontWeight": "normal", "offset": 12},
     "vconcat": [{
      "width": 170, "height": 114,
      "title": {"text": "Azelaic acid", "fontSize": 10, "fontWeight": "bold", "anchor": "middle", "frame": "group", "offset": 8},
      "layer": [
       {"data": {"name": "box"}, "transform": [{"filter": "datum.panel === 'K'"}], "mark": {"type": "rule", "color": "black", "strokeWidth": 2},
        "encoding": {"x": {"field": "group", "type": "nominal", "scale": {"type": "band", "domain": ["Pre-operation", "Post-operation"], "paddingInner": 0.32, "paddingOuter": 0.33}, "axis": {"title": null, "labelAngle": -45}},
         "y": {"field": "lo", "type": "quantitative", "scale": {"domain": [18, 30], "nice": false, "zero": false}, "axis": {"title": "Log2 (Relative intensity)", "tickCount": 6, "labelOverlap": false}}, "y2": {"field": "hi"}}},
       {"data": {"name": "box"}, "transform": [{"filter": "datum.panel === 'K'"}], "mark": {"type": "bar", "fill": "white", "stroke": "black", "strokeWidth": 2},
        "encoding": {"x": {"field": "group", "type": "nominal", "scale": {"type": "band", "domain": ["Pre-operation", "Post-operation"]}}, "y": {"field": "q1", "type": "quantitative"}, "y2": {"field": "q3"}}},
       {"data": {"name": "box"}, "transform": [{"filter": "datum.panel === 'K'"}], "mark": {"type": "bar", "fill": "white", "stroke": "black", "strokeWidth": 2},
        "encoding": {"x": {"field": "group", "type": "nominal", "scale": {"type": "band", "domain": ["Pre-operation", "Post-operation"]}}, "y": {"field": "med", "type": "quantitative"}, "y2": {"field": "med"}}},
       {"data": {"name": "box"}, "transform": [{"filter": "datum.panel === 'K'"}], "mark": {"type": "tick", "color": "black", "thickness": 2, "size": 28},
        "encoding": {"x": {"field": "group", "type": "nominal", "scale": {"type": "band", "domain": ["Pre-operation", "Post-operation"]}}, "y": {"field": "lo", "type": "quantitative"}}},
       {"data": {"name": "box"}, "transform": [{"filter": "datum.panel === 'K'"}], "mark": {"type": "tick", "color": "black", "thickness": 2, "size": 28},
        "encoding": {"x": {"field": "group", "type": "nominal", "scale": {"type": "band", "domain": ["Pre-operation", "Post-operation"]}}, "y": {"field": "hi", "type": "quantitative"}}},
       {"data": {"name": "sig"}, "transform": [{"filter": "datum.panel === 'K'"}], "mark": {"type": "rule", "color": "black", "strokeWidth": 1.5},
        "encoding": {"x": {"field": "from", "type": "nominal", "scale": {"type": "band", "domain": ["Pre-operation", "Post-operation"]}}, "x2": {"field": "to"}, "y": {"field": "y", "type": "quantitative"}}},
       {"data": {"name": "sig"}, "transform": [{"filter": "datum.panel === 'K'"}], "mark": {"type": "text", "baseline": "bottom", "dy": -3, "fontSize": 9, "color": "#333"},
        "encoding": {"y": {"field": "y", "type": "quantitative"}, "text": {"field": "label"}}}
      ]}]}
   ]}
 ]}
]
}
